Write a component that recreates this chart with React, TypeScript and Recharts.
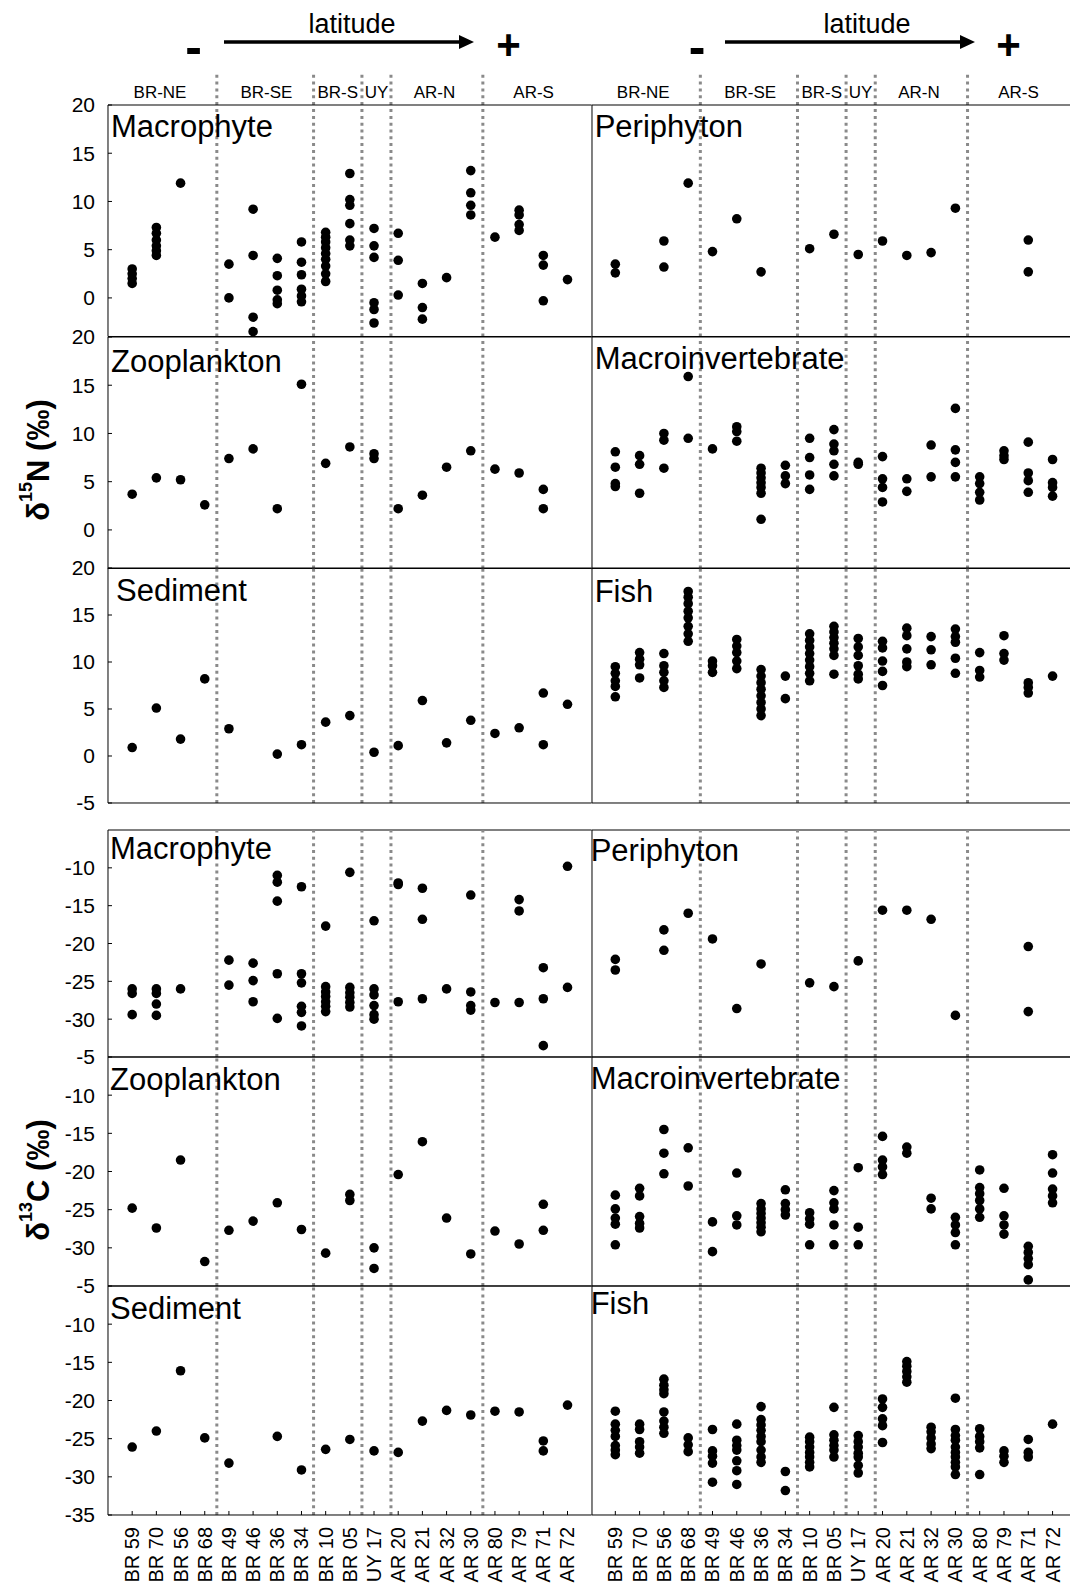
import React from "react";
import { ScatterChart, Scatter, XAxis, YAxis, ReferenceLine } from "recharts";

const FONT = '"Liberation Sans", Arial, sans-serif';

const sites = [
  "BR 59", "BR 70", "BR 56", "BR 68", "BR 49", "BR 46", "BR 36", "BR 34", "BR 10", "BR 05",
  "UY 17", "AR 20", "AR 21", "AR 32", "AR 30", "AR 80", "AR 79", "AR 71", "AR 72",
];
const regions = ["BR-NE", "BR-SE", "BR-S", "UY", "AR-N", "AR-S"];
const regionLabelX = [1.15, 5.55, 8.5, 10.1, 12.5, 16.6];
const dividers = [3.5, 7.5, 9.5, 10.7, 14.5];

const nTicks = [0, 5, 10, 15, 20];
const nTicksSed = [-5, 0, 5, 10, 15, 20];
const cTicksTop = [-30, -25, -20, -15, -10];
const cTicksMid = [-30, -25, -20, -15, -10, -5];
const cTicksBottom = [-35, -30, -25, -20, -15, -10, -5];

// d15N, one list per site (same order as sites)
const macrophyteN = [
  [3.0, 2.5, 2.0, 1.5], [7.3, 6.7, 6.0, 5.4, 4.9, 4.4], [11.9], [], [3.5, 0.0],
  [9.2, 4.4, -2.0, -3.5], [4.1, 2.3, 0.8, -0.2, -0.6], [5.8, 3.7, 2.4, 0.9, 0.2, -0.4],
  [6.8, 6.3, 5.8, 5.2, 4.6, 4.0, 3.3, 2.5, 1.7], [12.9, 10.2, 9.6, 7.7, 6.0, 5.4],
  [7.2, 5.4, 4.2, -0.5, -1.2, -2.6], [6.7, 3.9, 0.3], [1.5, -1.0, -2.2], [2.1],
  [13.2, 10.9, 9.6, 8.6], [6.3], [9.1, 8.6, 7.6, 7.0], [4.4, 3.4, -0.3], [1.9],
];
const periphytonN = [
  [3.5, 2.6], [], [5.9, 3.2], [11.9], [4.8], [8.2], [2.7], [], [5.1], [6.6],
  [4.5], [5.9], [4.4], [4.7], [9.3], [], [], [6.0, 2.7], [],
];
const zooplanktonN = [
  [3.7], [5.4], [5.2], [2.6], [7.4], [8.4], [2.2], [15.1], [6.9], [8.6],
  [7.9, 7.4], [2.2], [3.6], [6.5], [8.2], [6.3], [5.9], [4.2, 2.2], [],
];
const macroinvertebrateN = [
  [8.1, 6.5, 4.8, 4.5], [7.7, 6.8, 3.8], [10.0, 9.3, 6.4], [15.9, 9.5], [8.4],
  [10.7, 10.2, 9.2], [6.4, 5.9, 5.4, 4.9, 4.4, 3.8, 1.1], [6.7, 5.6, 4.8],
  [9.5, 7.5, 5.7, 4.2], [10.4, 8.9, 8.2, 6.8, 5.6], [7.0, 6.8], [7.6, 5.3, 4.4, 2.9],
  [5.3, 4.0], [8.8, 5.5], [12.6, 8.3, 7.0, 5.5], [5.5, 4.8, 3.9, 3.1], [8.2, 7.7, 7.3],
  [9.1, 5.9, 5.1, 3.9], [7.3, 4.9, 4.4, 3.5],
];
const sedimentN = [
  [0.9], [5.1], [1.8], [8.2], [2.9], [], [0.2], [1.2], [3.6], [4.3],
  [0.4], [1.1], [5.9], [1.4], [3.8], [2.4], [3.0], [6.7, 1.2], [5.5],
];
const fishN = [
  [9.5, 8.8, 8.0, 7.4, 6.3], [11.0, 10.3, 9.7, 8.3], [10.9, 9.6, 8.9, 8.0, 7.3],
  [17.5, 16.9, 16.2, 15.4, 14.7, 13.8, 13.0, 12.2], [10.1, 9.6, 8.9],
  [12.4, 11.7, 11.0, 10.1, 9.3], [9.2, 8.5, 7.8, 7.1, 6.4, 5.7, 5.0, 4.3], [8.5, 6.1],
  [13.0, 12.3, 11.6, 10.9, 10.2, 9.5, 8.8, 8.0], [13.8, 13.2, 12.6, 12.0, 11.4, 10.7, 8.7],
  [12.5, 11.6, 10.7, 9.6, 8.7, 8.2], [12.2, 11.5, 10.1, 9.0, 7.5], [13.6, 12.8, 11.4, 10.0, 9.5],
  [12.7, 11.3, 9.7], [13.5, 12.7, 12.1, 10.4, 8.8], [11.0, 9.1, 8.4], [12.8, 10.9, 10.2],
  [7.8, 7.3, 6.7], [8.5],
];

// d13C
const macrophyteC = [
  [-26.0, -26.6, -29.4], [-26.0, -26.6, -28.0, -29.5], [-26.0], [], [-22.2, -25.5],
  [-22.6, -24.9, -27.7], [-11.0, -11.9, -14.4, -24.0, -29.9], [-12.5, -24.0, -25.2, -28.3, -29.1, -30.9],
  [-17.7, -25.7, -26.4, -27.0, -27.7, -28.3, -29.0], [-10.6, -25.8, -26.5, -27.1, -27.8, -28.4],
  [-17.0, -26.0, -26.8, -28.2, -29.4, -30.0], [-12.0, -12.2, -27.7], [-12.7, -16.8, -27.3], [-26.0],
  [-13.6, -26.4, -28.2, -28.8], [-27.8], [-14.2, -15.7, -27.8], [-23.2, -27.3, -33.5], [-9.8, -25.8],
];
const periphytonC = [
  [-22.1, -23.5], [], [-18.2, -20.9], [-16.0], [-19.4], [-28.6], [-22.7], [], [-25.2], [-25.7],
  [-22.3], [-15.6], [-15.6], [-16.8], [-29.5], [], [], [-20.4, -29.0], [],
];
const zooplanktonC = [
  [-24.8], [-27.4], [-18.5], [-31.8], [-27.7], [-26.5], [-24.1], [-27.6], [-30.7], [-23.0, -23.8],
  [-30.0, -32.7], [-20.4], [-16.1], [-26.1], [-30.8], [-27.8], [-29.5], [-24.3, -27.7], [],
];
const macroinvertebrateC = [
  [-23.1, -24.9, -26.1, -26.9, -29.6], [-22.2, -23.2, -25.9, -26.8, -27.4], [-14.5, -17.6, -20.3],
  [-16.9, -21.9], [-26.6, -30.5], [-20.2, -25.8, -27.0],
  [-24.2, -24.9, -25.5, -26.1, -26.7, -27.3, -27.9], [-22.4, -24.2, -25.0, -25.7],
  [-25.4, -26.2, -26.9, -29.6], [-22.5, -24.1, -24.9, -27.0, -29.6], [-19.5, -27.3, -29.6],
  [-15.4, -18.5, -19.4, -20.4], [-16.8, -17.6], [-23.5, -24.9], [-26.0, -27.0, -28.0, -29.6],
  [-19.8, -22.1, -22.9, -23.8, -24.9, -26.0], [-22.2, -25.8, -27.0, -28.2],
  [-29.8, -30.6, -31.4, -32.2, -34.2], [-17.8, -20.2, -22.3, -23.2, -24.1],
];
const sedimentC = [
  [-26.1], [-24.0], [-16.1], [-24.9], [-28.2], [], [-24.7], [-29.1], [-26.4], [-25.1],
  [-26.6], [-26.8], [-22.7], [-21.3], [-21.9], [-21.4], [-21.5], [-25.3, -26.6], [-20.6],
];
const fishC = [
  [-21.4, -23.1, -23.9, -24.7, -25.9, -26.5, -27.1], [-23.1, -23.8, -25.4, -26.1, -26.9],
  [-17.2, -18.0, -18.6, -19.1, -21.5, -22.7, -23.5, -24.3], [-24.9, -25.8, -26.7],
  [-23.8, -26.6, -27.3, -28.2, -30.7], [-23.1, -25.2, -25.9, -26.5, -27.9, -29.2, -31.0],
  [-20.8, -22.5, -23.2, -23.9, -24.7, -25.4, -26.5, -27.4, -28.1], [-29.3, -31.8],
  [-24.8, -25.4, -26.1, -26.8, -27.4, -28.1, -28.7], [-20.9, -24.5, -25.2, -25.9, -26.5, -27.4],
  [-24.6, -25.4, -26.1, -26.9, -27.4, -28.5, -29.5], [-19.8, -20.9, -22.4, -23.3, -25.5],
  [-14.9, -15.5, -16.2, -16.9, -17.6], [-23.5, -24.1, -24.9, -25.7, -26.3],
  [-19.7, -23.8, -24.6, -25.2, -26.1, -26.8, -27.4, -28.1, -28.7, -29.7],
  [-23.7, -24.7, -25.4, -26.2, -29.7], [-26.6, -27.3, -28.1], [-25.1, -26.8, -27.4], [-23.1],
];

const siteIdx = sites.map((_, i) => i);
const toPoints = (vals: number[][]) => vals.flatMap((col, i) => col.map((v) => ({ x: i, y: v })));

// layout
const LEFT = { plotLeft: 108, plotWidth: 483.7, domain: [-1, 19], axisW: 68, labels: true };
const RIGHT = { plotLeft: 591.7, plotWidth: 478.3, domain: [-0.96, 18.73], axisW: 1, labels: false };
const ROWS = [
  { top: 105, height: 231.5, domain: [-4, 20], ticks: nTicks },
  { top: 336.5, height: 231.5, domain: [-4, 20], ticks: nTicks },
  { top: 568, height: 235, domain: [-5, 20], ticks: nTicksSed },
  { top: 830, height: 227, domain: [-35, -5], ticks: cTicksTop },
  { top: 1057, height: 229, domain: [-35, -5], ticks: cTicksMid },
  { top: 1286, height: 229, domain: [-35, -5], ticks: cTicksBottom },
];

const panels = [
  { col: LEFT, row: 0, data: macrophyteN, title: "Macrophyte", tx: 3, ty: 32 },
  { col: RIGHT, row: 0, data: periphytonN, title: "Periphyton", tx: 3, ty: 32 },
  { col: LEFT, row: 1, data: zooplanktonN, title: "Zooplankton", tx: 3, ty: 35 },
  { col: RIGHT, row: 1, data: macroinvertebrateN, title: "Macroinvertebrate", tx: 3, ty: 32 },
  { col: LEFT, row: 2, data: sedimentN, title: "Sediment", tx: 8, ty: 33 },
  { col: RIGHT, row: 2, data: fishN, title: "Fish", tx: 3, ty: 34 },
  { col: LEFT, row: 3, data: macrophyteC, title: "Macrophyte", tx: 2, ty: 29 },
  { col: RIGHT, row: 3, data: periphytonC, title: "Periphyton", tx: -1, ty: 31 },
  { col: LEFT, row: 4, data: zooplanktonC, title: "Zooplankton", tx: 2, ty: 33 },
  { col: RIGHT, row: 4, data: macroinvertebrateC, title: "Macroinvertebrate", tx: -1, ty: 32 },
  { col: LEFT, row: 5, data: sedimentC, title: "Sediment", tx: 2, ty: 33 },
  { col: RIGHT, row: 5, data: fishC, title: "Fish", tx: -1, ty: 28 },
];

const DOT_LINE = { stroke: "#8a8a8a", strokeWidth: 3, strokeDasharray: "3 3.8" };

const Dot = (p: any) => <circle cx={p.cx} cy={p.cy} r={4.8} fill="#000" />;

const SiteTick = (p: any) => (
  <text
    x={p.x}
    y={p.y}
    transform={`rotate(-90 ${p.x} ${p.y})`}
    textAnchor="end"
    dominantBaseline="central"
    fontSize={20}
    fontFamily={FONT}
    fill="#000"
  >
    {sites[p.payload.value]}
  </text>
);

const RegionLabel = (p: any) => (
  <text x={p.cx} y={p.cy} textAnchor="middle" dominantBaseline="central" fontSize={17} fontFamily={FONT} fill="#000">
    {p.payload.name}
  </text>
);

function Header({ col }: { col: typeof LEFT }) {
  const labels = regions.map((name, i) => ({ x: regionLabelX[i], y: 0.4, name }));
  return (
    <div style={{ position: "absolute", left: col.plotLeft, top: 73 }}>
      <ScatterChart width={col.plotWidth} height={32} margin={{ top: 0, right: 0, bottom: 0, left: 0 }}>
        <XAxis type="number" dataKey="x" domain={col.domain} allowDataOverflow hide />
        <YAxis type="number" dataKey="y" domain={[0, 1]} allowDataOverflow hide />
        {dividers.map((d) => (
          <ReferenceLine key={d} x={d} {...DOT_LINE} />
        ))}
        <Scatter data={labels} shape={RegionLabel} isAnimationActive={false} />
      </ScatterChart>
    </div>
  );
}

function Panel({ spec }: { spec: (typeof panels)[number] }) {
  const { col } = spec;
  const row = ROWS[spec.row];
  const last = spec.row === ROWS.length - 1;
  const xAxisH = last ? 75 : 1;
  return (
    <div style={{ position: "absolute", left: col.plotLeft - col.axisW, top: row.top }}>
      <ScatterChart
        width={col.plotWidth + col.axisW}
        height={row.height + xAxisH}
        margin={{ top: 0, right: 0, bottom: 0, left: 0 }}
      >
        <XAxis
          type="number"
          dataKey="x"
          domain={col.domain}
          allowDataOverflow
          ticks={siteIdx}
          interval={0}
          height={xAxisH}
          tickSize={-4}
          tickMargin={16}
          axisLine={{ stroke: "#000" }}
          tickLine={{ stroke: "#000" }}
          tick={last ? SiteTick : false}
        />
        <YAxis
          type="number"
          dataKey="y"
          domain={row.domain}
          allowDataOverflow
          ticks={row.ticks}
          interval={0}
          width={col.axisW}
          tickSize={-4}
          tickMargin={17}
          axisLine={{ stroke: "#000" }}
          tickLine={{ stroke: "#000" }}
          tick={col.labels ? { fontSize: 21, fill: "#000", fontFamily: FONT } : false}
        />
        <ReferenceLine y={row.domain[1]} stroke="#000" />
        {dividers.map((d) => (
          <ReferenceLine key={d} x={d} {...DOT_LINE} />
        ))}
        <Scatter data={toPoints(spec.data)} shape={Dot} isAnimationActive={false} />
      </ScatterChart>
    </div>
  );
}

function Latitude({ cx, minus, plus, x1, x2 }: { cx: number; minus: number; plus: number; x1: number; x2: number }) {
  return (
    <g fontFamily={FONT} fill="#000">
      <text x={cx} y={33} textAnchor="middle" fontSize={27}>latitude</text>
      <line x1={x1} x2={x2 - 12} y1={42} y2={42} stroke="#000" strokeWidth={3.5} />
      <polygon points={`${x2},42 ${x2 - 15},35 ${x2 - 15},49`} fill="#000" />
      <text x={minus} y={64} textAnchor="middle" fontSize={50} fontWeight="bold">-</text>
      <text x={plus} y={59} textAnchor="middle" fontSize={42} fontWeight="bold">+</text>
    </g>
  );
}

export default function App() {
  return (
    <div style={{ position: "absolute", left: 0, top: 0, width: 1070, height: 1587, background: "#fff" }}>
      <style>{".recharts-surface{overflow:visible}"}</style>
      <Header col={LEFT} />
      <Header col={RIGHT} />
      {panels.map((p, i) => (
        <Panel key={i} spec={p} />
      ))}
      <svg
        width={1070}
        height={1587}
        style={{ position: "absolute", left: 0, top: 0, pointerEvents: "none" }}
      >
        <Latitude cx={352} minus={193.5} plus={508.5} x1={224} x2={474} />
        <Latitude cx={867} minus={697} plus={1008.5} x1={725} x2={975} />
        {panels.map((p, i) => (
          <text
            key={i}
            x={p.col.plotLeft + p.tx}
            y={ROWS[p.row].top + p.ty}
            fontSize={31}
            fontFamily={FONT}
            fill="#000"
          >
            {p.title}
          </text>
        ))}
        <text
          transform="rotate(-90 38 460)"
          x={38}
          y={460}
          textAnchor="middle"
          dominantBaseline="central"
          fontSize={31}
          fontWeight="bold"
          fontFamily={FONT}
        >
          δ<tspan fontSize={18} dy={-12}>15</tspan>
          <tspan dy={12}>N (‰)</tspan>
        </text>
        <text
          transform="rotate(-90 38 1180)"
          x={38}
          y={1180}
          textAnchor="middle"
          dominantBaseline="central"
          fontSize={31}
          fontWeight="bold"
          fontFamily={FONT}
        >
          δ<tspan fontSize={18} dy={-12}>13</tspan>
          <tspan dy={12}>C (‰)</tspan>
        </text>
      </svg>
    </div>
  );
}
